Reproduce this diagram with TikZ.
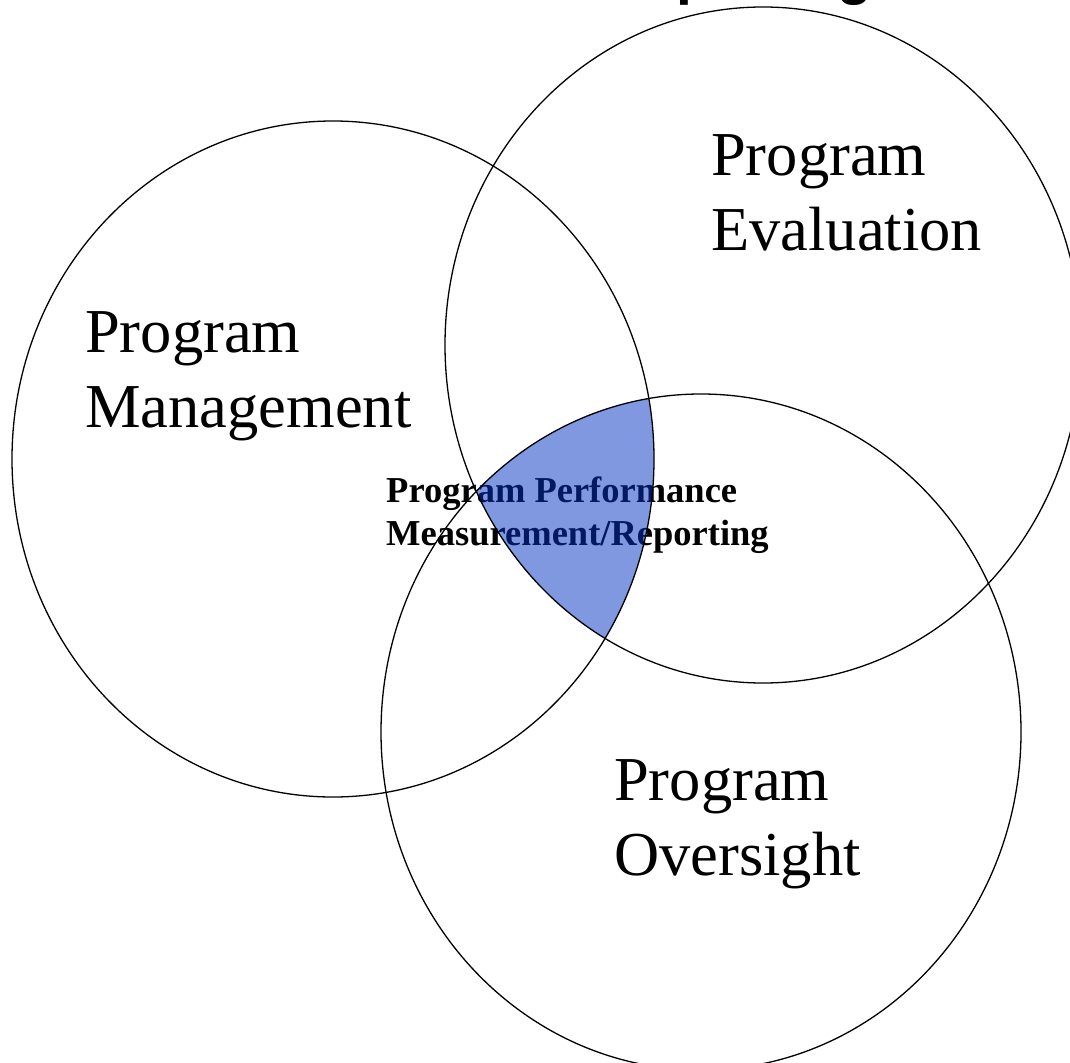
\documentclass[tikz,border=0pt]{standalone}
\usepackage{fontspec}
\setmainfont{Liberation Serif}
\newfontfamily\titlefont{Liberation Sans}
\begin{document}
\begin{tikzpicture}[x=1pt,y=-1pt,
  ring/.style={draw=black,line width=1.3pt},
  biglabel/.style={anchor=base west,inner sep=0pt,font=\fontsize{62.5}{75}\selectfont},
  smalllabel/.style={anchor=base west,inner sep=0pt,font=\fontsize{36.5}{43}\selectfont\bfseries},
  core/.style={fill={rgb,255:red,0;green,51;blue,193},fill opacity=0.5}]
\useasboundingbox (0,0) rectangle (1070,1062);
\clip (0,0) rectangle (1070,1062);
\fill[white] (0,0) rectangle (1070,1062);
% cut-off title (only descenders visible)
\node[anchor=base west,inner sep=0pt,font=\titlefont\bfseries\fontsize{57}{60}\selectfont] (title) at (603,-6) {Reporting};
% labels
\node[biglabel] (pe1) at (711,175) {Program};
\node[biglabel] (pe2) at (711,250) {Evaluation};
\node[biglabel] (pm1) at (85,352) {Program};
\node[biglabel] (pm2) at (85,427) {Management};
\node[biglabel] (po1) at (614,800) {Program};
\node[biglabel] (po2) at (614,875) {Oversight};
\node[smalllabel] (pp1) at (386,502) {Program Performance};
\node[smalllabel] (pp2) at (386,545) {Measurement/Reporting};
% shaded common region
\begin{scope}
  \clip (333,459) ellipse [x radius=321pt, y radius=338pt];
  \clip (763,345) ellipse [x radius=318pt, y radius=338pt];
  \fill[core] (701,732) ellipse [x radius=320pt, y radius=338pt];
\end{scope}
% circles
\draw[ring] (333,459) ellipse [x radius=321pt, y radius=338pt];
\draw[ring] (763,345) ellipse [x radius=318pt, y radius=338pt];
\draw[ring] (701,732) ellipse [x radius=320pt, y radius=338pt];
\end{tikzpicture}
\end{document}
